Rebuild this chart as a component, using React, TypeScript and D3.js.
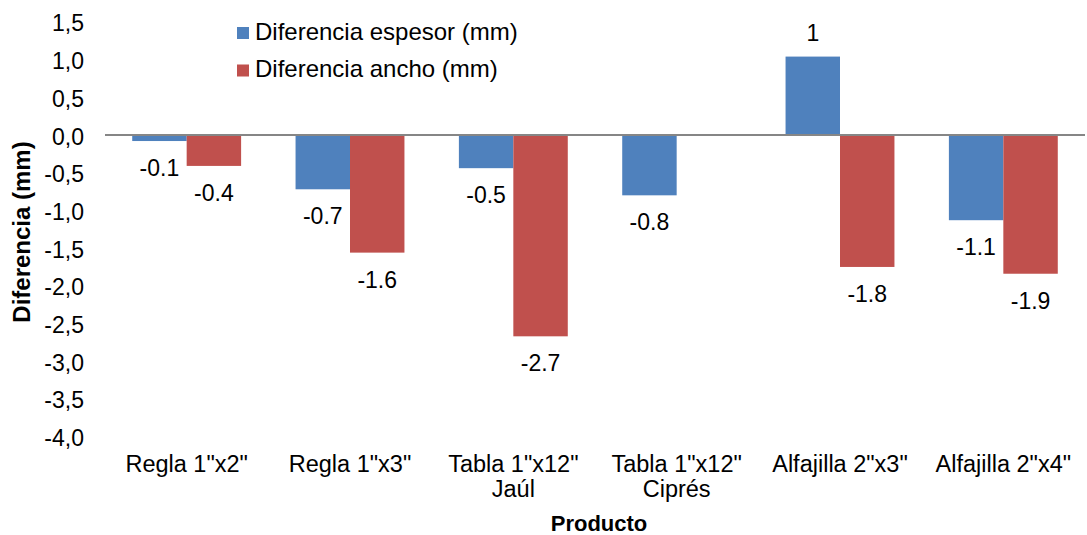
import React from "react";
import * as d3 from "d3";

const categories: string[][] = [
  ['Regla 1"x2"'],
  ['Regla 1"x3"'],
  ['Tabla 1"x12"', "Jaúl"],
  ['Tabla 1"x12"', "Ciprés"],
  ['Alfajilla 2"x3"'],
  ['Alfajilla 2"x4"'],
];
const seriesNames = ["Diferencia espesor (mm)", "Diferencia ancho (mm)"];
const espesor: (number | null)[] = [-0.08, -0.72, -0.44, -0.8, 1.04, -1.13];
const ancho: (number | null)[] = [-0.41, -1.56, -2.67, null, -1.75, -1.84];
const espesorLabels = ["-0.1", "-0.7", "-0.5", "-0.8", "1", "-1.1"];
const anchoLabels = ["-0.4", "-1.6", "-2.7", "", "-1.8", "-1.9"];
const yTicks = [1.5, 1.0, 0.5, 0.0, -0.5, -1.0, -1.5, -2.0, -2.5, -3.0, -3.5, -4.0];
const colors = ["#4F81BD", "#C0504D"];

const W = 1087;
const H = 535;
const FONT = "'Liberation Sans', Arial, sans-serif";

export default function App() {
  const keys = categories.map((c) => c.join(" "));
  const x0 = d3.scaleBand<string>().domain(keys).range([105, 1085]).padding(0);
  const x1 = d3
    .scaleBand<string>()
    .domain(["0", "1"])
    .range([0, x0.bandwidth()])
    .paddingInner(0)
    .paddingOuter(0.5);
  const y = d3.scaleLinear().domain([-4, 1.5]).range([436.6, 21.9]);
  const fmt = (v: number) => d3.format(".1f")(v).replace(".", ",").replace("−", "-");

  const series = [
    { vals: espesor, labels: espesorLabels },
    { vals: ancho, labels: anchoLabels },
  ];

  return (
    <svg
      width={W}
      height={H}
      style={{ position: "absolute", left: 0, top: 0, background: "#fff" }}
      fontFamily={FONT}
    >
      <rect width={W} height={H} fill="#fff" />
      {/* y tick labels */}
      {yTicks.map((t) => (
        <text key={t} x={84} y={y(t) + 9.5} textAnchor="end" fontSize={23} fill="#000">
          {fmt(t)}
        </text>
      ))}
      {/* bars */}
      {series.map((s, si) =>
        s.vals.map((v, i) => {
          if (v === null) return null;
          const bx = (x0(keys[i]) as number) + (x1(String(si)) as number);
          const y0 = y(0);
          const yv = y(v);
          return (
            <rect
              key={`b${si}-${i}`}
              x={bx}
              y={Math.min(y0, yv)}
              width={x1.bandwidth()}
              height={Math.abs(yv - y0)}
              fill={colors[si]}
            />
          );
        })
      )}
      {/* zero line */}
      <line x1={105} x2={1085} y1={y(0)} y2={y(0)} stroke="#868686" strokeWidth={2} />
      {/* data labels */}
      {series.map((s, si) =>
        s.vals.map((v, i) => {
          if (v === null) return null;
          const cx = (x0(keys[i]) as number) + (x1(String(si)) as number) + x1.bandwidth() / 2;
          const ty = v >= 0 ? y(v) - 15.5 : y(v) + 35;
          return (
            <text key={`l${si}-${i}`} x={cx} y={ty} textAnchor="middle" fontSize={23} fill="#000">
              {s.labels[i]}
            </text>
          );
        })
      )}
      {/* category labels */}
      {categories.map((lines, i) => (
        <text
          key={`c${i}`}
          x={(x0(keys[i]) as number) + x0.bandwidth() / 2}
          y={471.5}
          textAnchor="middle"
          fontSize={23.5}
          fill="#000"
        >
          {lines.map((ln, li) => (
            <tspan key={li} x={(x0(keys[i]) as number) + x0.bandwidth() / 2} dy={li === 0 ? 0 : 25}>
              {ln}
            </tspan>
          ))}
        </text>
      ))}
      {/* axis titles */}
      <text x={599} y={531} textAnchor="middle" fontSize={22} fontWeight="bold" fill="#000">
        Producto
      </text>
      <text
        transform="translate(30,232) rotate(-90)"
        textAnchor="middle"
        fontSize={24}
        fontWeight="bold"
        fill="#000"
      >
        Diferencia (mm)
      </text>
      {/* legend */}
      {seriesNames.map((n, i) => (
        <g key={n}>
          <rect x={237} y={27 + i * 37.5} width={12} height={12} fill={colors[i]} />
          <text x={255} y={39.5 + i * 37.5} fontSize={24} fill="#000">
            {n}
          </text>
        </g>
      ))}
    </svg>
  );
}
